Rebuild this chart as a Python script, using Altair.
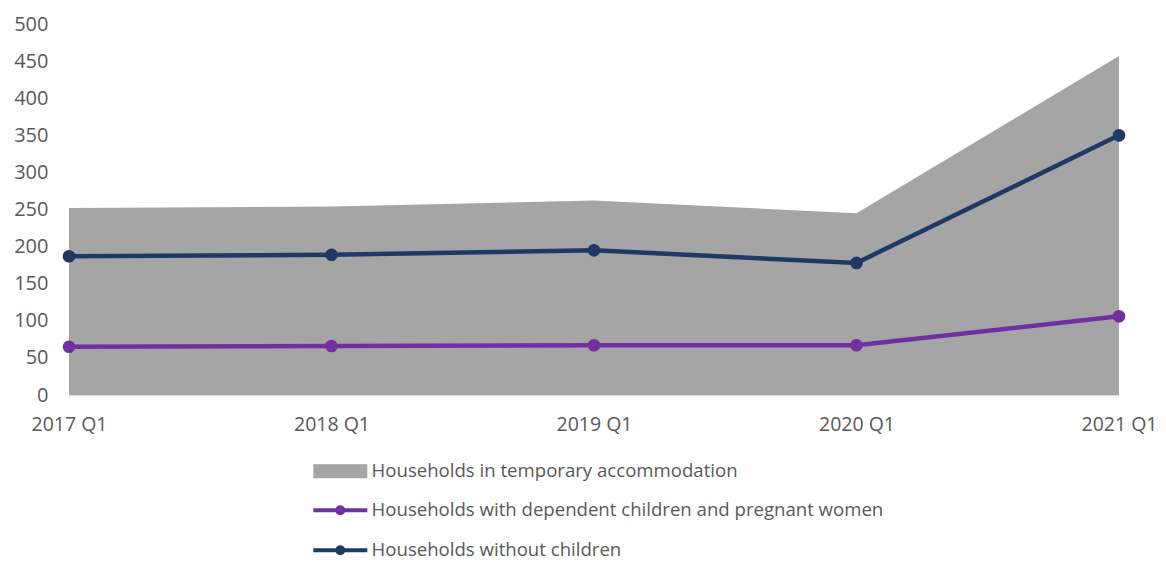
import altair as alt
import pandas as pd

quarters = ["2017 Q1", "2018 Q1", "2019 Q1", "2020 Q1", "2021 Q1"]
total_ta = [252, 254, 262, 245, 457]
with_children = [65, 66, 67, 67, 106]
without_children = [187, 189, 195, 178, 350]

S_TOTAL = "Households in temporary accommodation"
S_CHILD = "Households with dependent children and pregnant women"
S_NOCHILD = "Households without children"

area_df = pd.DataFrame({"quarter": quarters, "value": total_ta, "series": S_TOTAL})
line_df = pd.concat([
    pd.DataFrame({"quarter": quarters, "value": with_children, "series": S_CHILD}),
    pd.DataFrame({"quarter": quarters, "value": without_children, "series": S_NOCHILD}),
], ignore_index=True)

FONT = "Open Sans"
TXT = "#595959"

RECT_PATH = "M-5.4,-1.4H5.4V1.4H-5.4Z"
LINE_PATH = "M-5.4,0H5.4M-0.6,0A0.6,0.6,0,1,0,0.6,0A0.6,0.6,0,1,0,-0.6,0Z"

x_enc = alt.X(
    "quarter:O",
    sort=quarters,
    scale=alt.Scale(type="point", padding=0),
    axis=alt.Axis(title=None, labelAngle=0, ticks=False, tickSize=0, domain=True,
                  domainColor="#D9D9D9", domainWidth=1.5, labelPadding=20,
                  labelFontSize=19.5, labelColor=TXT, labelFont=FONT),
)
y_enc = alt.Y(
    "value:Q",
    scale=alt.Scale(domain=[0, 500], nice=False),
    axis=alt.Axis(title=None, values=list(range(0, 501, 50)), grid=False, domain=False,
                  ticks=False, tickSize=0, labelPadding=21, labelFontSize=20,
                  labelColor=TXT, labelFont=FONT),
)

area = alt.Chart(area_df).mark_area(opacity=1).encode(
    x=x_enc,
    y=y_enc,
    fill=alt.Fill(
        "series:N",
        scale=alt.Scale(domain=[S_TOTAL], range=["#A5A5A5"]),
        legend=alt.Legend(
            title=None, orient="none", legendX=262, legendY=438, padding=0,
            symbolType=RECT_PATH, symbolSize=100, symbolStrokeWidth=0,
            labelOffset=22, labelFontSize=18.6, labelColor=TXT, labelFont=FONT,
            labelLimit=1000,
        ),
    ),
)

lines = alt.Chart(line_df).mark_line(
    strokeWidth=4.5,
    point=alt.OverlayMarkDef(size=160, filled=True, opacity=1),
).encode(
    x=x_enc,
    y=y_enc,
    color=alt.Color(
        "series:N",
        sort=[S_CHILD, S_NOCHILD],
        scale=alt.Scale(domain=[S_CHILD, S_NOCHILD], range=["#7030A0", "#203864"]),
        legend=alt.Legend(
            title=None, orient="none", legendX=262, legendY=477, padding=0,
            symbolType=LINE_PATH, symbolSize=100, symbolStrokeWidth=4,
            labelOffset=22, labelFontSize=18.6, labelColor=TXT, labelFont=FONT,
            labelLimit=1000, rowPadding=17,
        ),
    ),
)

chart = alt.layer(area, lines).properties(
    width=1050,
    height=371,
    padding={"left": 61, "top": 16, "right": 39, "bottom": 166},
    autosize=alt.AutoSizeParams(type="none"),
).configure_view(stroke=None)

chart.save("out.html", embed_options={"renderer": "svg", "actions": False})
